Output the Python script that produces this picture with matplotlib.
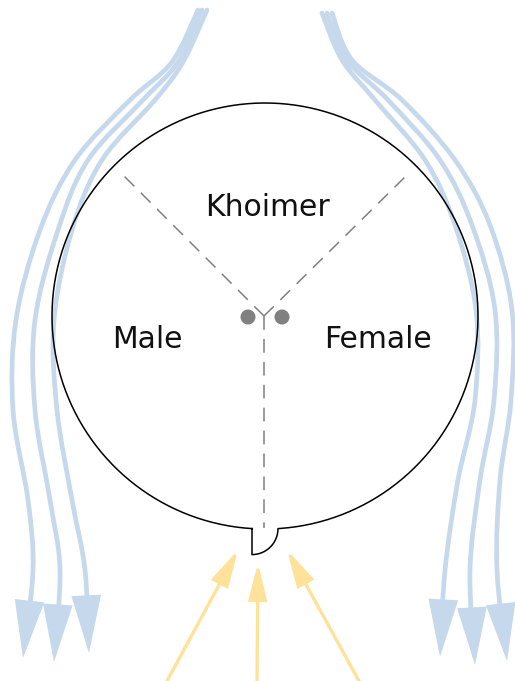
import matplotlib
matplotlib.use("Agg")
import matplotlib.pyplot as plt
import numpy as np
from matplotlib.path import Path
from matplotlib.patches import FancyArrowPatch, Circle

# Diagram in pixel coordinates (y grows downward)
labels = ["Khoimer", "Male", "Female"]
label_pos = [(267, 216), (147, 348), (378, 348)]  # baseline anchors

cell_center = (265, 316)
cell_radius = 213
notch_x = 252
notch_radius = 26

hub = (264, 316)
spoke_ends = [(120, 172), (410, 172), (264, 528)]
dot_pos = [(248, 317), (282, 317)]

# outgoing flows (blue), waypoints top -> arrow tip
out_left = [
    [(198, 10), (172, 62), (130, 100), (75, 160), (40, 230), (16, 320), (13, 410), (28, 500), (33, 570), (23, 658)],
    [(202, 10), (178, 62), (143, 100), (88, 160), (58, 230), (35, 320), (35, 410), (50, 500), (60, 570), (54, 662)],
    [(207, 10), (183, 62), (155, 100), (102, 160), (72, 230), (54, 320), (57, 410), (72, 500), (85, 570), (89, 653)],
]
out_right = [
    [(322, 13), (342, 60), (375, 100), (425, 160), (455, 225), (476, 310), (475, 400), (458, 480), (445, 570), (440, 657)],
    [(327, 13), (347, 60), (388, 100), (440, 160), (472, 225), (495, 310), (494, 400), (480, 480), (470, 570), (475, 665)],
    [(332, 13), (352, 60), (402, 100), (455, 160), (490, 225), (512, 310), (511, 400), (500, 480), (497, 570), (507, 661)],
]

# incoming flows (yellow): tail -> tip
in_arrows = [((167, 681), (238, 550)), ((257, 681), (258, 563)), ((359, 681), (287, 550))]

blue = "#c6d9ec"
yellow = "#ffe29a"
gray = "#808080"


def smooth_path(pts):
    # Catmull-Rom through the waypoints, written as cubic Bezier segments
    p = np.array(pts, dtype=float)
    ext = np.vstack([p[0], p, p[-1]])
    verts = [p[0]]
    codes = [Path.MOVETO]
    for i in range(1, len(ext) - 2):
        c1 = ext[i] + (ext[i + 1] - ext[i - 1]) / 6
        c2 = ext[i + 1] - (ext[i + 2] - ext[i]) / 6
        verts += [c1, c2, ext[i + 1]]
        codes += [Path.CURVE4] * 3
    return Path(verts, codes)


fig = plt.figure(figsize=(5.15, 6.81), dpi=100)
ax = fig.add_axes([0, 0, 1, 1])
ax.set_xlim(0, 515)
ax.set_ylim(681, 0)
ax.axis("off")

# cell outline with the notch at the bottom
cx, cy = cell_center
t0 = np.arccos((notch_x - cx) / cell_radius)
t1 = np.arccos((notch_x + notch_radius - cx) / cell_radius)
t = np.linspace(t0, t1 + 2 * np.pi, 500)
xs = list(cx + cell_radius * np.cos(t))
ys = list(cy + cell_radius * np.sin(t))
ny = cy + cell_radius * np.sin(t0)
a = np.linspace(0, np.pi / 2, 60)
xs += list(notch_x + notch_radius * np.cos(a))
ys += list(ny + notch_radius * np.sin(a))
xs += [notch_x, notch_x]
ys += [ny + notch_radius, ny]
ax.plot(xs, ys, color="black", lw=1.1, solid_joinstyle="round")

# spokes
for ex, ey in spoke_ends:
    ax.plot([hub[0], ex], [hub[1], ey], color=gray, lw=1.1, linestyle=(0, (9, 6)))
for dx, dy in dot_pos:
    ax.add_patch(Circle((dx, dy), 7.5, color=gray, lw=0))

for txt, (tx, ty) in zip(labels, label_pos):
    ax.text(tx, ty, txt, ha="center", va="baseline", fontsize=21.5,
            family="DejaVu Sans", color="#111111")

# blue outflows
for pts in out_left + out_right:
    arr = FancyArrowPatch(path=smooth_path(pts), arrowstyle="-|>,head_length=33,head_width=8.5",
                          mutation_scale=1, color=blue, lw=3.4, joinstyle="miter")
    ax.add_patch(arr)

# yellow inflows
for tail, tip in in_arrows:
    arr = FancyArrowPatch(tail, tip, arrowstyle="-|>,head_length=22,head_width=5.5",
                          mutation_scale=1, color=yellow, lw=2.4, shrinkA=0, shrinkB=0,
                          joinstyle="miter")
    ax.add_patch(arr)

fig.savefig("out.png", dpi=100)
